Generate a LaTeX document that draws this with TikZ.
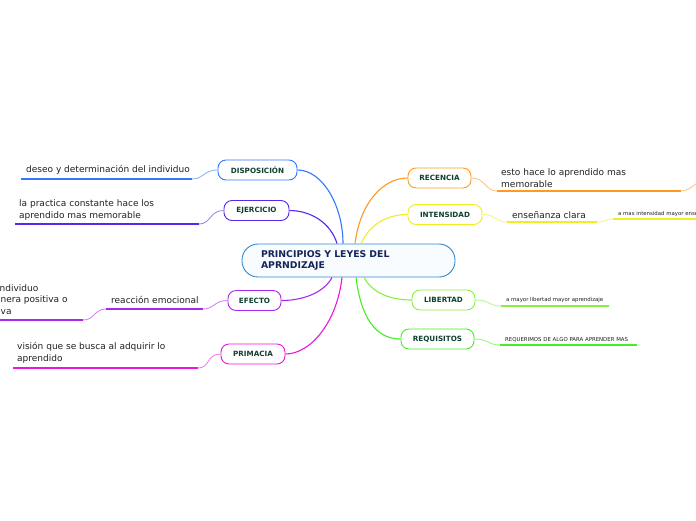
\documentclass[tikz,border=0pt]{standalone}
\usepackage{fontspec}
\setmainfont{DejaVu Sans}
\usetikzlibrary{positioning}
\definecolor{hubblue}{RGB}{51,136,204}
\definecolor{hubfill}{RGB}{248,252,255}
\definecolor{hubtext}{RGB}{20,36,90}
\definecolor{labelgreen}{RGB}{14,64,48}
\definecolor{leafgray}{RGB}{34,34,34}
\definecolor{cdis}{RGB}{51,119,255}
\definecolor{ceje}{RGB}{85,40,238}
\definecolor{cefe}{RGB}{170,40,238}
\definecolor{cpri}{RGB}{238,20,221}
\definecolor{crec}{RGB}{255,153,34}
\definecolor{cint}{RGB}{238,238,34}
\definecolor{clib}{RGB}{136,238,68}
\definecolor{creq}{RGB}{68,238,34}

\begin{document}
\begin{tikzpicture}[
		x=1pt, y=-1pt,
		every node/.style={font=\fontsize{9}{12}\selectfont},
		topic/.style={draw, rectangle, rounded corners=8pt, fill=white, line width=0.9pt,
			minimum height=20pt, inner xsep=0pt, text=labelgreen,
			font=\fontsize{7.2}{8}\selectfont\bfseries},
		leaf/.style={anchor=west, align=left, inner sep=0pt, text=leafgray},
		smallleaf/.style={leaf, font=\fontsize{5.4}{6}\selectfont},
		branch/.style={line width=1.1pt},
		underline/.style={line width=1.6pt},
		twig/.style={line width=0.9pt}
		]
		
		\useasboundingbox (0,0) rectangle (696,520);
		\clip (0,0) rectangle (696,520);
		\fill[white] (0,0) rectangle (696,520);
		
		% Central topic
		\node[
		draw=hubblue,
		fill=hubfill,
		rounded corners=16pt,
		line width=0.9pt,
		minimum height=33pt,
		text width=175pt,
		inner xsep=19pt,
		align=left,
		text=hubtext,
		font=\fontsize{9.3}{11}\selectfont\bfseries
		] (hub) at (348.5,260.5) {PRINCIPIOS Y LEYES DEL\\APRNDIZAJE};
		
		% Main topics
		\node[topic, draw=cdis, minimum width=79pt] (dis) at (257.5,170) {DISPOSICIÓN};
		\node[topic, draw=ceje, minimum width=65pt] (eje) at (256.5,210.5) {EJERCICIO};
		\node[topic, draw=cefe, minimum width=53pt] (efe) at (254.5,300.5) {EFECTO};
		\node[topic, draw=cpri, minimum width=64pt] (pri) at (253,354) {PRIMACIA};
		\node[topic, draw=crec, minimum width=63pt] (rec) at (439.5,178) {RECENCIA};
		\node[topic, draw=cint, minimum width=74pt] (int) at (445,214.5) {INTENSIDAD};
		\node[topic, draw=clib, minimum width=63pt] (lib) at (443.5,300) {LIBERTAD};
		\node[topic, draw=creq, minimum width=73pt] (req) at (437.5,339) {REQUISITOS};
		
		% Branches
		\draw[branch, cdis] ([xshift=-5.5pt]hub.north) .. controls +(0,-38) and +(25,0) .. (dis.east);
		\draw[branch, ceje] ([xshift=-11.5pt]hub.north) .. controls +(-6,-20) and +(22,0) .. (eje.east);
		\draw[branch, crec] ([xshift=6.5pt]hub.north) .. controls +(5,-40) and +(-25,0) .. (rec.west);
		\draw[branch, cint] ([xshift=12.5pt]hub.north) .. controls +(8,-18) and +(-22,0) .. (int.west);
		\draw[branch, cefe] ([xshift=-16.5pt]hub.south) .. controls +(-8,15) and +(22,0) .. (efe.east);
		\draw[branch, cpri] ([xshift=-6.5pt]hub.south) .. controls +(-5,45) and +(25,0) .. (pri.east);
		\draw[branch, clib] ([xshift=15.5pt]hub.south) .. controls +(8,15) and +(-22,0) .. (lib.west);
		\draw[branch, creq] ([xshift=7.5pt]hub.south) .. controls +(5,40) and +(-25,0) .. (req.west);
		
		% Disposicion
		\node[leaf] (disT) at (26,170) {deseo y determinación del individuo};
		\coordinate (disA) at (21,179);
		\coordinate (disB) at (192,179);
		\draw[underline, cdis] (disA) -- (disB);
		\draw[twig, cdis!55] (dis.west) .. controls +(-14,0) and +(12,0) .. (disB);
		
		% Ejercicio
		\node[leaf] (ejeT) at (19,210) {la practica constante hace los\\aprendido mas memorable};
		\coordinate (ejeA) at (15,224);
		\coordinate (ejeB) at (199,224);
		\draw[underline, ceje] (ejeA) -- (ejeB);
		\draw[twig, ceje!55] (eje.west) .. controls +(-14,0) and +(12,0) .. (ejeB);
		
		% Efecto
		\node[leaf] (efeT) at (111,300) {reacción emocional};
		\coordinate (efeA) at (106,309);
		\coordinate (efeB) at (203,309);
		\draw[underline, cefe] (efeA) -- (efeB);
		\draw[twig, cefe!55] (efe.west) .. controls +(-14,0) and +(12,0) .. (efeB);
		\node[leaf, font=\fontsize{9}{11.5}\selectfont] (efeS) at (-28,300.5) {en el individuo\\de manera positiva o\\negativa};
		\coordinate (efeC) at (-40,320);
		\coordinate (efeD) at (83,320);
		\draw[underline, cefe] (efeC) -- (efeD);
		\draw[twig, cefe!55] (efeA) .. controls +(-12,0) and +(12,0) .. (efeD);
		
		% Primacia
		\node[leaf] (priT) at (17,352.5) {visión que se busca al adquirir lo\\aprendido};
		\coordinate (priA) at (13,368);
		\coordinate (priB) at (198,368);
		\draw[underline, cpri] (priA) -- (priB);
		\draw[twig, cpri!55] (pri.west) .. controls +(-14,0) and +(12,0) .. (priB);
		
		% Recencia
		\node[leaf] (recT) at (501,178.5) {esto hace lo aprendido mas\\memorable};
		\coordinate (recA) at (497,191);
		\coordinate (recB) at (681,191);
		\draw[underline, crec] (recA) -- (recB);
		\draw[twig, crec!55] (rec.east) .. controls +(14,0) and +(-12,0) .. (recA);
		\coordinate (recC) at (712,176);
		\draw[twig, crec!55] (recB) .. controls +(12,0) and +(-12,0) .. (recC);
		
		% Intensidad
		\node[leaf] (intT) at (512,215) {enseñanza clara};
		\coordinate (intA) at (507,222);
		\coordinate (intB) at (597,222);
		\draw[underline, cint] (intA) -- (intB);
		\draw[twig, cint!55] (int.east) .. controls +(14,0) and +(-12,0) .. (intA);
		\node[smallleaf] (intS) at (618,213.5) {a mas intensidad mayor enseñanza};
		\coordinate (intC) at (613,219);
		\coordinate (intD) at (730,219);
		\draw[underline, cint] (intC) -- (intD);
		\draw[twig, cint!55] (intB) .. controls +(8,0) and +(-8,0) .. (intC);
		
		% Libertad
		\node[smallleaf] (libT) at (506,300) {a mayor libertad mayor aprendizaje};
		\coordinate (libA) at (501,306);
		\coordinate (libB) at (609,306);
		\draw[underline, clib] (libA) -- (libB);
		\draw[twig, clib!55] (lib.east) .. controls +(14,0) and +(-12,0) .. (libA);
		
		% Requisitos
		\node[smallleaf] (reqT) at (505,340) {REQUERIMOS DE ALGO PARA APRENDER MAS};
		\coordinate (reqA) at (500,345);
		\coordinate (reqB) at (637,345);
		\draw[underline, creq] (reqA) -- (reqB);
		\draw[twig, creq!55] (req.east) .. controls +(14,0) and +(-12,0) .. (reqA);
		
	\end{tikzpicture}
\end{document}
